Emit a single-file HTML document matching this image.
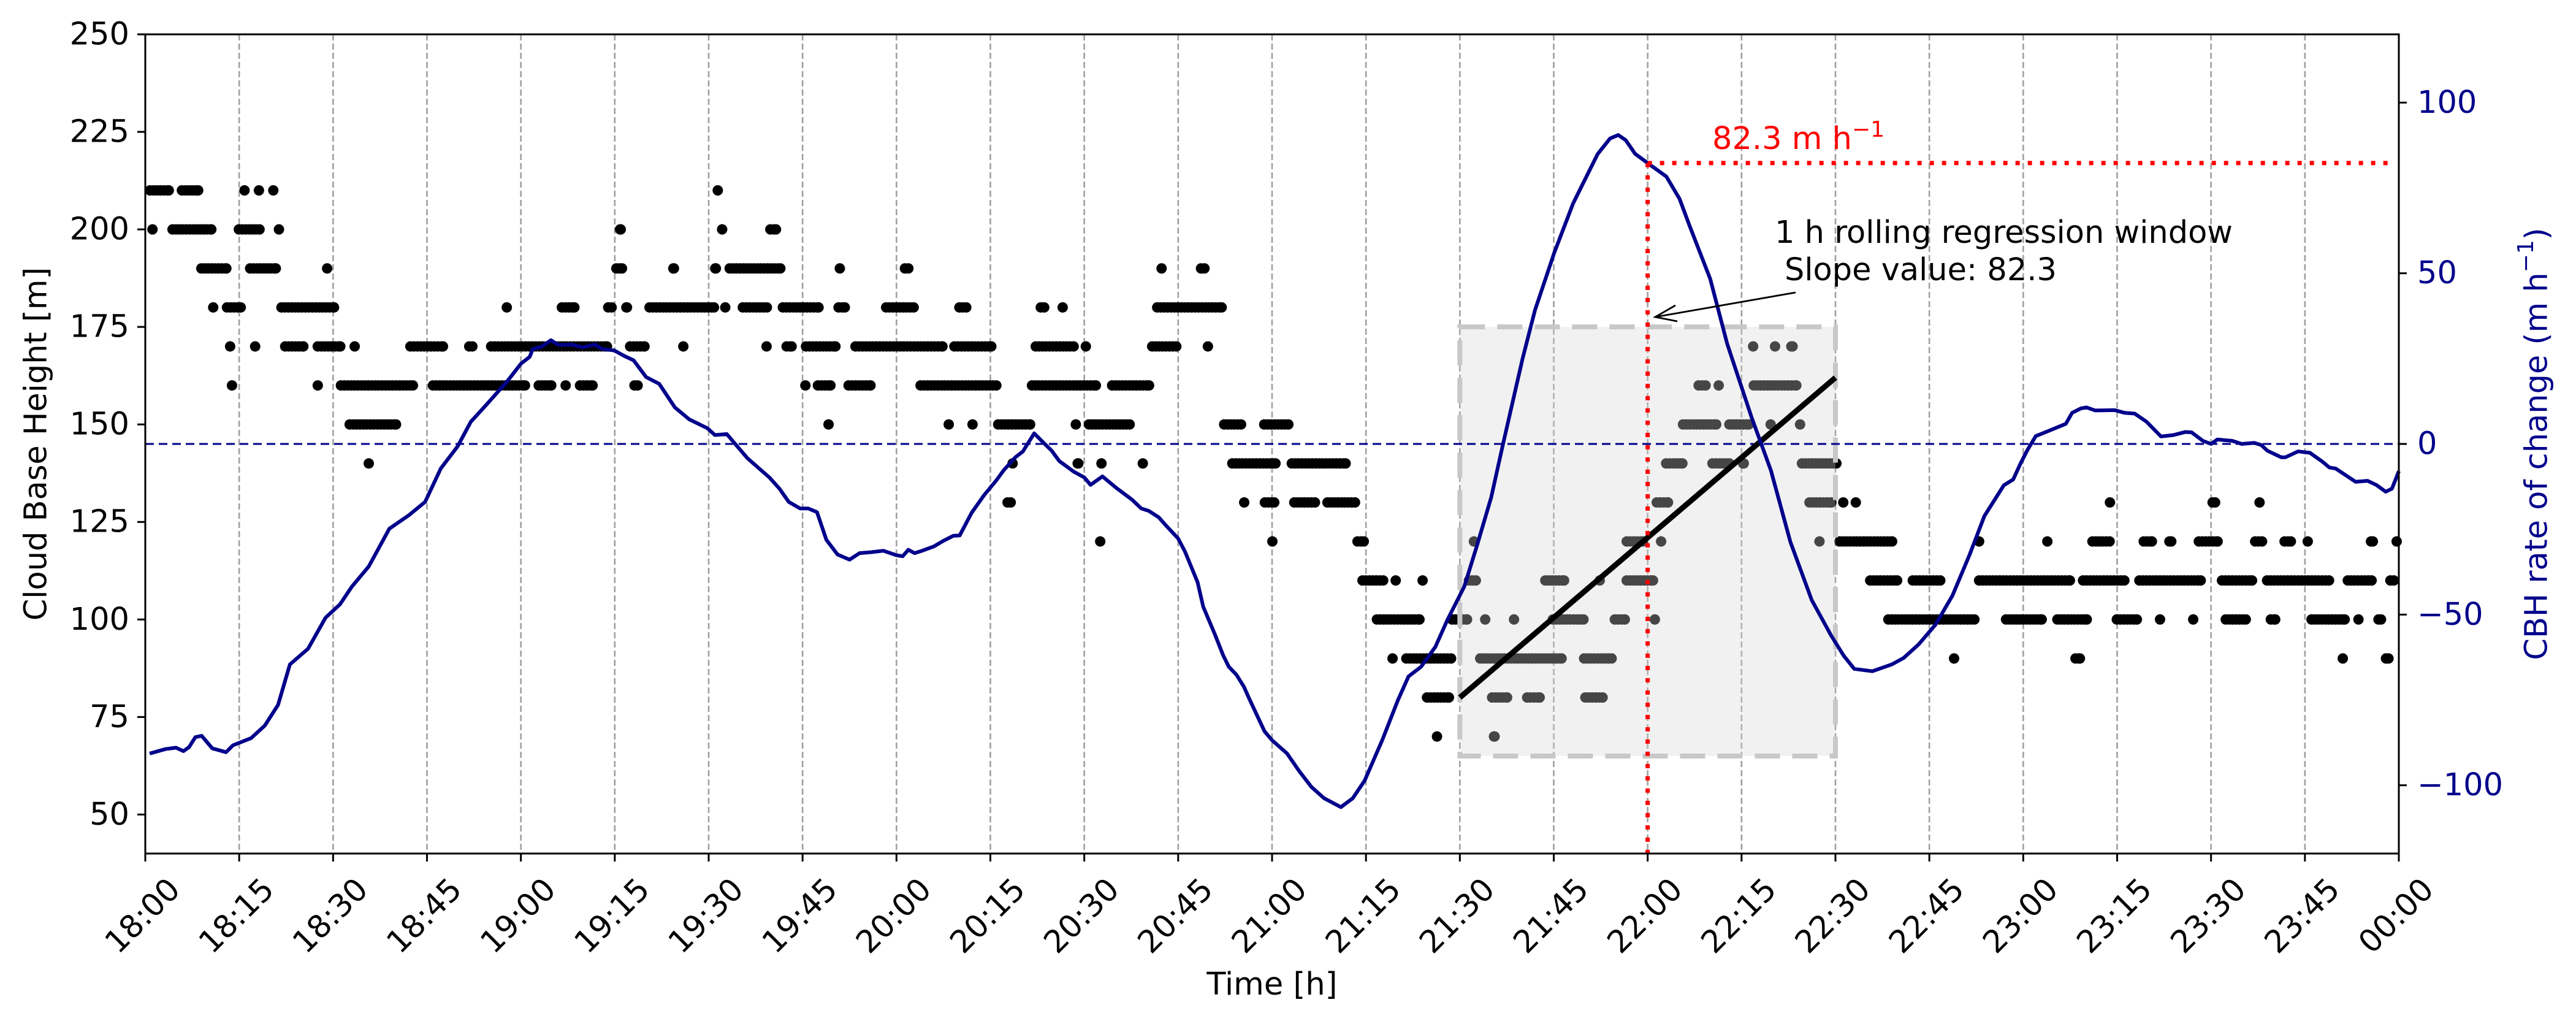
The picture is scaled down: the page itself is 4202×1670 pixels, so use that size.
<!DOCTYPE html>
<html><head><meta charset="utf-8"><title>Cloud base height and rate of change, 18:00–00:00</title>
<style>
html,body{margin:0;padding:0;background:#fff;}
svg{display:block;font-family:"DejaVu Sans","Liberation Sans",sans-serif;}
</style></head>
<body>
<svg id="chart" xmlns="http://www.w3.org/2000/svg" width="4202" height="1670" viewBox="0 0 4202 1670">
<rect x="0" y="0" width="4202" height="1670" fill="#fff"/>
<g id="grid"></g>
<g id="scatter"></g>
<g id="window"></g>
<g id="zero"></g>
<g id="reg"></g>
<g id="rate"></g>
<g id="marker"></g>
<g id="axes"></g>
<g id="annot">
  <text x="2895" y="396" font-size="51" fill="#000">1 h rolling regression window</text>
  <text x="2911" y="457" font-size="51" fill="#000">Slope value: 82.3</text>
  <line x1="2929" y1="477" x2="2700" y2="517" stroke="#000" stroke-width="2.8"/>
  <polyline points="2733,498 2700,517 2736,524" fill="none" stroke="#000" stroke-width="2.8"/>
  <text x="2793" y="243" font-size="51" fill="#ff0000">82.3 m h<tspan dy="-20" font-size="36">−1</tspan></text>
</g>
<text x="59" y="724" font-size="51" text-anchor="middle" transform="rotate(-90 59 724)" dominant-baseline="central">Cloud Base Height [m]</text>
<text x="2075" y="1622" font-size="51" text-anchor="middle">Time [h]</text>
<text x="4138" y="724" font-size="51" fill="#00008b" text-anchor="middle" transform="rotate(-90 4138 724)" dominant-baseline="central">CBH rate of change (m h<tspan dy="-18" font-size="36">−1</tspan><tspan dy="18">)</tspan></text>
</svg>
<script>
// ---- data ----
const xTickLabels = ["18:00","18:15","18:30","18:45","19:00","19:15","19:30","19:45","20:00","20:15","20:30","20:45","21:00","21:15","21:30","21:45","22:00","22:15","22:30","22:45","23:00","23:15","23:30","23:45","00:00"];
const yTicks = [50,75,100,125,150,175,200,225,250];
const y2Ticks = [-100,-50,0,50,100];
// scatter runs of consecutive CBH observations: start minute, end minute, height (m)
const runStart = [0,5.1,15.1,17.4,19.7,0.4,3.6,14.2,20.6,8.2,16,28.3,10.1,12.3,21,57,12.8,16.8,21.6,26.8,32.7,41.6,51,54.5,13.1,26.8,30.5,45.2,31.9,35.1,
 90.7,75.1,91.4,99.1,74.5,83.6,90.3,92.6,110.2,65.8,73.2,76.1,79.8,91.9,94.7,101.1,110,117.6,76.7,85.2,98.5,101.7,104.8,112.7,128.5,62.1,66.4,68.7,77.4,104.7,106.7,111.6,108.4,
 120.6,161.6,167.9,129.3,142.3,145.8,160.9,141.5,149.5,160.1,169,123.1,140.9,153.7,127.6,131.4,135.5,147.9,150,171.6,178,137.8,148.2,152,158.6,172.9,182.4,137,174.8,178.1,182.8,188.1,151.8,179.3,192.9,
 193.7,199,203.3,210.7,222.9,231.6,235.9,196,208,213.3,217.9,224.1,234,240.5,198.5,200.7,212.5,229.1,204,214.4,220,229.3,205.6,214.7,211.5,235.9,241.4,266.7,269.9,292.2,
 256.1,259.6,262.2,247.4,250.6,256.2,244.9,252.3,258.9,263.6,242.2,249.6,254.5,263.9,240.7,265.1,270.5,272.5,274.8,281.6,292.2,277.7,296.5,288.2,
 313.1,329.5,337,303.1,310.3,318.5,322.6,327.3,336.3,341,344.7,354.8,359.3,308.8,317.8,331,338.2,351.1,357.9,304.7,314.2,321.1,326.4,331.6,338.8,345.3,352.8,356,307.6,350.3,357.2];
const runEnd = [4.5,9.2,16.7,19,21.3,2,11.3,19.1,22.2,13.7,21.6,29.9,11.7,16,30.9,58.6,14.4,18.4,26,31.9,34.3,48.3,53,74.5,14.7,28.4,43.5,61.4,40.8,36.3,
 92.3,76.7,93,101.5,76.9,85.2,91.9,102.2,111.8,69.3,75.3,77.7,91.6,93.5,100.1,108.3,112.5,123.5,80.5,86.8,100.1,104,111,128.1,135.9,65.6,68,72.2,79.4,106.3,110.2,116.6,110,
 122.7,163.2,170,132,144.4,147.4,172.7,149.1,151.1,165.5,170.6,136.7,152.6,161.1,129.2,133,142.1,149.5,158,175.8,183.4,139.4,149.8,153.6,160.2,181.3,192.5,139,176.4,181.1,187.7,194.1,153.4,180.9,195.4,
 198.5,200.6,204.9,213.4,227.4,233.2,241.6,204.3,211.9,214.9,219.5,230.5,237.1,241.8,200.1,209.4,227,235,209,218.3,223.5,233.6,207.2,216.3,213.1,240,243,268.3,279.8,293.8,
 257.7,261.2,263.9,250,252.2,264.5,251.7,256.9,260.5,265.2,246.3,253.8,256.1,270.9,244,270.1,272.1,274.1,280.6,287.6,308.2,293,303.7,289.8,
 314.7,331.4,338.6,304.7,314.6,321.3,324.4,331.8,339,343.5,346.3,356.6,360,317,329.1,337.3,349.7,356.4,360,310.9,318.9,322.7,328,336.3,341,352.1,354.4,357.9,309.8,351.9,359.1];
const runValue = [210,210,210,210,210,200,200,200,200,190,190,190,180,180,180,180,170,170,170,170,170,170,170,170,160,160,160,160,150,140,
 210,200,200,200,190,190,190,190,190,180,180,180,180,180,180,180,180,180,170,170,170,170,170,170,170,160,160,160,160,160,160,160,150,
 190,190,190,180,180,180,180,170,170,170,170,160,160,160,150,150,150,150,150,150,150,140,140,140,140,140,140,130,130,130,130,130,120,120,120,
 110,110,110,110,110,110,110,100,100,100,100,100,100,100,90,90,90,90,80,80,80,80,70,70,120,120,120,120,120,120,
 170,170,170,160,160,160,150,150,150,150,140,140,140,140,130,130,130,130,110,110,110,100,100,90,
 130,130,130,120,120,120,120,120,120,120,120,120,120,110,110,110,110,110,110,100,100,100,100,100,100,100,100,100,90,90,90];
// rate of change line (minutes after 18:00, m/h)
const rateT = [0.7,3.2,4.9,6.1,7,8,9,10.7,12.9,14,16.9,19.1,21.2,23.1,26,28.8,31.1,33,35.7,39,42.1,44.7,47.2,49.9,52,54.3,57.8,60,61.4,61.9,63.3,64.8,66,68.1,69.9,71.8,73,74.9,76.5,78,80,82.1,84.6,86.9,89.8,91,92.9,96.2,99.7,101.3,102.8,104.6,105.9,107.3,108.8,110.6,112.5,114.1,116,117.9,120,121,121.9,122.9,124.1,126,127.4,129.1,130.1,132,134,135.9,137.1,139,140.2,142,143.3,144.8,146,148.3,150,151,152.9,155.2,157.6,159.1,160.3,161.9,163.2,165,166.1,168.1,169,170.8,172.2,173.1,174.3,175.5,176.3,178.8,180,182.4,184.4,186.3,188.3,191,192.9,194.8,197.6,200.1,201.8,203.8,206.1,208,210.7,212.7,215,216.9,220,222,225.1,228.1,232,234,235.3,236.5,238,240,243,245.1,246.7,250,252.7,256.6,259.7,262.8,266.2,269.3,271.3,273,275.9,279,280.9,283.3,286,288.7,291.4,293.8,296.9,298.4,299.5,300.6,302,303.9,306.8,307.8,309.2,310.1,311.5,314.6,316.2,317.8,319.7,322,324,325.9,326.9,328.7,330,331,333.4,334.9,336.9,338,339,341.2,341.9,343.9,345.8,347.8,348.9,349.9,353.1,355,356.4,357.9,358.9,360];
const rateV = [-90.7,-89.4,-89,-90,-88.8,-85.9,-85.5,-89.2,-90.3,-88.3,-86.2,-82.5,-76.5,-64.6,-60,-50.9,-47,-41.8,-35.9,-24.8,-20.9,-17,-7.2,-0.7,6.5,11.1,18.3,23.5,25.5,27.8,28.5,30.4,29,29.1,28.3,29.1,27.8,27.4,25.8,24.5,19.6,17.6,10.7,7.2,4.6,2.6,2.9,-4.2,-9.8,-13.1,-17,-18.9,-18.9,-20,-28.1,-32.4,-33.9,-32,-31.7,-31.3,-32.6,-32.9,-31,-32,-31.3,-30,-28.5,-26.9,-26.8,-20.2,-15,-10.8,-7.8,-3.9,-2.2,3.1,0.7,-2,-5,-8.1,-9.8,-12,-9.5,-13,-16.3,-18.9,-19.6,-21.5,-24.2,-27.7,-31.6,-40.5,-47.7,-55.5,-62,-65.3,-67.6,-71.1,-74.4,-84.2,-86.8,-90.7,-96,-100.5,-103.8,-106.4,-103.8,-98.6,-86.8,-75.1,-68.1,-65.3,-59.4,-51.6,-41.8,-30,-15.7,0,24.8,39.2,56.1,70.5,84.9,89.5,90.5,89,85,82.3,78.3,71.8,63.9,48.3,29.4,7.8,-7.8,-28.7,-45.7,-56.1,-62,-65.9,-66.6,-64.6,-62.7,-58.7,-52.9,-44.4,-32.6,-21.1,-12.1,-10.4,-6,-2,2.3,3.7,5.9,9.1,10.4,10.7,9.8,9.9,9.1,8.9,6.5,2.2,2.6,3.5,3.4,0.9,0,1.3,0.9,0,0.3,-0.3,-2,-3.9,-3.9,-2.2,-2.6,-5.2,-6.9,-7.2,-11.1,-10.8,-12,-14,-13.1,-8];
// regression window & fit
const windowStartMin = 210, windowEndMin = 270, windowLowCBH = 65, windowHighCBH = 175;
const regStartCBH = 80, regEndCBH = 162;
const slopeMin = 240, slopeValue = 82.3;

// ---- scales ----
const L=237, R=3913, T=56, B=1392;
const xS = m => L + (R-L)*m/360;
const yS = v => B - (B-T)*(v-40)/210;
const y2S = v => B - (B-T)*(v+120)/240;
const NS="http://www.w3.org/2000/svg";
function mk(tag, attrs, parent){const e=document.createElementNS(NS,tag);for(const k in attrs)e.setAttribute(k,attrs[k]);parent.appendChild(e);return e;}

const grid=document.getElementById('grid');
xTickLabels.forEach((lab,i)=>{ if(i>0&&i<xTickLabels.length-1){
  const g=mk('line',{x1:xS(i*15),x2:xS(i*15),y1:T,y2:B,stroke:'#a0a0a0','stroke-width':2.6,'stroke-dasharray':'10 5'},grid);
  
  
}});

const sc=document.getElementById('scatter');
for(let i=0;i<runStart.length;i++){
  const s=runStart[i]+0.75, e=runEnd[i]-0.75;
  const pts=[];
  if(e<=s) pts.push((runStart[i]+runEnd[i])/2); else { for(let t=s;t<=e+0.001;t+=0.55) pts.push(t); if(pts[pts.length-1]<e-0.1) pts.push(e); }
  pts.forEach(t=>{
    const c=mk('circle',{cx:xS(t),cy:yS(runValue[i]),r:8.5,fill:'#000'},sc);
    
    
  });
}

const win=document.getElementById('window');
const wr=mk('rect',{x:xS(windowStartMin),y:yS(windowHighCBH),width:xS(windowEndMin)-xS(windowStartMin),height:yS(windowLowCBH)-yS(windowHighCBH),fill:'#d3d3d3','fill-opacity':0.33,stroke:'#c8c8c8','stroke-width':8,'stroke-dasharray':'41 20'},win);



const zl=mk('line',{x1:L,x2:R,y1:y2S(0),y2:y2S(0),stroke:'#00008b','stroke-width':3,'stroke-dasharray':'14 8'},document.getElementById('zero'));



const rl=mk('line',{x1:xS(windowStartMin),y1:yS(regStartCBH),x2:xS(windowEndMin),y2:yS(regEndCBH),stroke:'#000','stroke-width':9},document.getElementById('reg'));



const d=rateT.map((t,i)=>(i?'L':'M')+xS(t).toFixed(1)+','+y2S(rateV[i]).toFixed(1)).join(' ');
const rp=mk('path',{d:d,fill:'none',stroke:'#00008b','stroke-width':6,'stroke-linejoin':'round'},document.getElementById('rate'));



const mkG=document.getElementById('marker');
const mv=mk('line',{x1:xS(slopeMin),x2:xS(slopeMin),y1:y2S(slopeValue),y2:B,stroke:'#ff0000','stroke-width':7,'stroke-dasharray':'7 13'},mkG);


const mh=mk('line',{x1:xS(slopeMin),x2:3900,y1:y2S(slopeValue),y2:y2S(slopeValue),stroke:'#ff0000','stroke-width':7,'stroke-dasharray':'7 13'},mkG);



const ax=document.getElementById('axes');
const fr=mk('rect',{x:L,y:T,width:R-L,height:B-T,fill:'none',stroke:'#000','stroke-width':3},ax);


yTicks.forEach(v=>{
  const y=yS(v);
  const tk=mk('line',{x1:L-13,x2:L,y1:y,y2:y,stroke:'#000','stroke-width':3},ax);
  
  
  const tx=mk('text',{x:L-26,y:y,'font-size':51,'text-anchor':'end','dominant-baseline':'central'},ax);
  tx.textContent=v;
  
  
});
y2Ticks.forEach(v=>{
  const y=y2S(v);
  const tk=mk('line',{x1:R,x2:R+13,y1:y,y2:y,stroke:'#000','stroke-width':3},ax);
  
  
  const tx=mk('text',{x:R+30,y:y,'font-size':51,fill:'#00008b','dominant-baseline':'central'},ax);
  tx.textContent=v<0?'\u2212'+(-v):String(v);
  
  
});
xTickLabels.forEach((lab,i)=>{
  const x=xS(i*15);
  const tk=mk('line',{x1:x,x2:x,y1:B,y2:B+13,stroke:'#000','stroke-width':3},ax);
  
  
  const cx=x-4, cy=1494;
  const tx=mk('text',{x:cx,y:cy,'font-size':51,'text-anchor':'middle','dominant-baseline':'central',transform:'rotate(-45 '+cx+' '+cy+')'},ax);
  tx.textContent=lab;
  
  
});
</script>
</body></html>
